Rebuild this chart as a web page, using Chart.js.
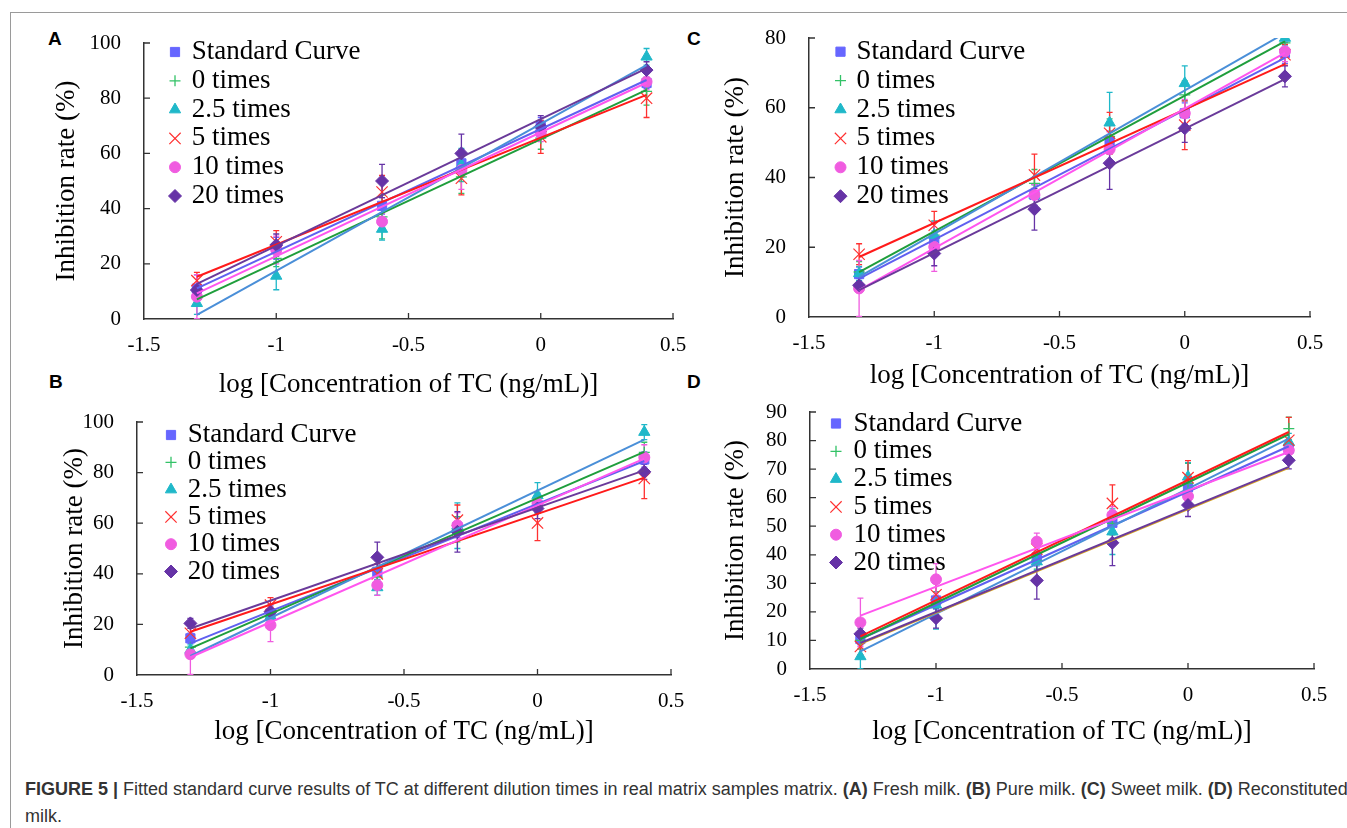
<!DOCTYPE html>
<html>
<head>
<meta charset="utf-8">
<title>Figure 5 - fitted standard curves of TC</title>
<script src="https://cdn.jsdelivr.net/npm/chart.js@4.4.1/dist/chart.umd.min.js"></script>
<style>
  html, body { margin: 0; padding: 0; background: #fff; }
  body { width: 1347px; height: 828px; overflow: hidden; position: relative; }
  #frame { position: absolute; left: 10px; top: 12px; width: 1400px; height: 900px; border: 1.5px solid #9a9a9a; }
  canvas { position: absolute; }
  .letter { position: absolute; font: bold 19px "Liberation Sans", Arial, sans-serif; color: #000; }
  #caption { position: absolute; left: 25px; top: 776px; font: 18px "Liberation Sans", Arial, sans-serif;
             line-height: 27px; color: #333; white-space: nowrap; }
</style>
</head>
<body>
<div id="frame"></div>
<div class="letter" style="left:48px;top:28px">A</div>
<div class="letter" style="left:49px;top:371px">B</div>
<div class="letter" style="left:687px;top:28px">C</div>
<div class="letter" style="left:687px;top:371px">D</div>
<div id="caption"><b>FIGURE 5 |</b> Fitted standard curve results of TC at different dilution times in real matrix samples matrix. <b>(A)</b> Fresh milk. <b>(B)</b> Pure milk. <b>(C)</b> Sweet milk. <b>(D)</b> Reconstituted<br>milk.</div>

<script>
// x positions (log concentration) and series names
const concLog = [-1.3, -1, -0.6, -0.3, 0, 0.4];
const fitEnds = [-1.3, 0.4];
const seriesNames = ['Standard Curve', '0 times', '2.5 times', '5 times', '10 times', '20 times'];

const xTicks = [-1.5, -1, -0.5, 0, 0.5];
const xTickLabels = ['-1.5', '-1', '-0.5', '0', '0.5'];
const yTicks100 = [0, 20, 40, 60, 80, 100];
const yTicks80 = [0, 20, 40, 60, 80];
const yTicks90 = [0, 10, 20, 30, 40, 50, 60, 70, 80, 90];

// (A) Fresh milk — mean inhibition rate, error, fitted line at -1.3 / 0.4
const freshMean = [
  [11, 25.6, 41, 56.4, 70, 85.5],
  [8, 22, 37, 51.5, 65.5, 82.5],
  [5.7, 15.6, 32.6, 55.8, 69, 95],
  [13.9, 28, 46, 51, 66, 80],
  [8.1, 25, 35.3, 54, 67.3, 86],
  [10.5, 26.8, 50, 60, 69.7, 90.2]
];
const freshErr = [
  [5, 4, 3, 5, 3, 2],
  [3, 3, 8, 6, 4, 5],
  [4, 5, 4, 6, 3, 3],
  [3, 4, 6, 6, 6, 7],
  [8, 5, 3, 7, 3, 3],
  [2, 4, 6, 7, 4, 3]
];
const freshFit = [[11.1, 86.6], [7.1, 83], [1.5, 92], [15.3, 81.2], [9.3, 85.6], [12.7, 90.8]];

// (B) Pure milk
const pureMean = [
  [14.5, 24.3, 40.8, 58.5, 67.1, 85.2],
  [11, 22.3, 38.7, 57.6, 68, 88],
  [9.9, 23, 34.6, 59, 71, 96],
  [16.5, 27.6, 40, 61.2, 60.1, 77.7],
  [8.2, 19.7, 35.5, 59.2, 67.8, 86],
  [20.4, 25, 46.5, 56.6, 65.8, 80.3]
];
const pureErr = [
  [2, 3, 3, 4, 3, 3],
  [3, 3, 3, 5, 4, 4],
  [2, 3, 3, 9, 5, 3],
  [3, 3, 4, 6, 7, 8],
  [8, 6.5, 4, 5, 3, 5],
  [2, 3, 6, 8, 4, 3]
];
const pureFit = [[12.5, 84.6], [10.5, 88.2], [7.5, 93], [17.1, 78], [7, 85.5], [18.4, 80.9]];

// (C) Sweet milk
const sweetMean = [
  [12.3, 21.6, 35, 50.3, 58.4, 75.7],
  [12.9, 23.5, 38.3, 51.8, 63.7, 78.6],
  [12.5, 23.5, 35, 55.7, 67, 80],
  [18, 26.3, 40.7, 52.7, 55, 75.2],
  [8.2, 20.1, 35, 48.1, 58.4, 76.2],
  [9.1, 18.2, 30.9, 44.1, 54.1, 69]
];
const sweetErr = [
  [2, 3, 3, 3, 3, 3],
  [3, 4, 4, 5, 4, 3],
  [2, 4, 3, 8.7, 5, 2],
  [3, 4, 6, 6, 7, 3],
  [8, 7, 3, 5, 4, 3],
  [2, 3.5, 6, 7.5, 4, 3]
];
const sweetFit = [[11, 74.3], [12.9, 79], [11.5, 81.4], [17.2, 72.5], [7.7, 75.7], [7.7, 68.2]];

// (D) Reconstituted milk
const reconMean = [
  [10.5, 24, 39.1, 51.2, 63.6, 77.2],
  [10, 23, 38, 51, 65, 84.2],
  [4.4, 22.5, 37.6, 48.1, 67.3, 79.5],
  [7.9, 26, 42, 58, 67, 80.1],
  [16.3, 31.4, 44.6, 53.9, 60.5, 76.6],
  [12.3, 17.8, 31, 44.2, 57.4, 73.1]
];
const reconErr = [
  [2, 3, 3, 3, 3, 3],
  [3, 4, 3, 4, 7, 4],
  [4.4, 8.5, 3, 8, 5, 3],
  [3, 4, 4, 6.5, 6, 8],
  [8.5, 5.5, 3, 3, 3, 3],
  [2, 3.5, 6.5, 8, 4, 3]
];
const reconFit = [[10.5, 78], [10.5, 82.2], [6.2, 80.7], [11.4, 83], [18.7, 76], [9.1, 70.8]];
const reconExtraFit = [8.7, 70.4];

// styles
const markers = [
  { pointStyle: 'rect', radius: 6.5, fill: '#6666ff', stroke: '#6666ff', width: 1 },
  { pointStyle: 'cross', radius: 5.5, fill: '#33c267', stroke: '#33c267', width: 1.3 },
  { pointStyle: 'triangle', radius: 6.5, fill: '#1fb8c9', stroke: '#1fb8c9', width: 1 },
  { pointStyle: 'crossRot', radius: 8, fill: '#ff3030', stroke: '#ff3030', width: 1.2 },
  { pointStyle: 'circle', radius: 5.5, fill: '#f05ce0', stroke: '#f05ce0', width: 1 },
  { pointStyle: 'rectRot', radius: 6.5, fill: '#6633a6', stroke: '#6633a6', width: 1 }
];
const lineColors = ['#6060f0', '#1f9e3c', '#4a8fd8', '#ff1a1a', '#ff55ee', '#6a3a9a'];
const serif = 'Liberation Serif';

Chart.defaults.font.family = serif;
Chart.defaults.font.size = 21;
Chart.defaults.color = '#000';

// error bars under the markers
const errorBars = {
  id: 'errorBars',
  beforeDatasetsDraw(chart) {
    const { ctx, chartArea, scales: { x, y } } = chart;
    ctx.save();
    ctx.beginPath();
    ctx.rect(chartArea.left, chartArea.top, chartArea.width, chartArea.height);
    ctx.clip();
    chart.data.datasets.forEach(ds => {
      if (!ds.errors) return;
      ctx.strokeStyle = ds.borderColor;
      ctx.lineWidth = 1.3;
      ds.data.forEach((p, j) => {
        const e = ds.errors[j];
        const px = x.getPixelForValue(p.x);
        const top = y.getPixelForValue(p.y + e);
        const bot = y.getPixelForValue(p.y - e);
        ctx.beginPath();
        ctx.moveTo(px, top); ctx.lineTo(px, bot);
        ctx.moveTo(px - 3, top); ctx.lineTo(px + 3, top);
        ctx.moveTo(px - 3, bot); ctx.lineTo(px + 3, bot);
        ctx.stroke();
      });
    });
    ctx.restore();
  }
};

// tick marks pointing into the plot
const innerTicks = {
  id: 'innerTicks',
  afterDraw(chart) {
    const { ctx, chartArea, scales: { x, y } } = chart;
    ctx.save();
    ctx.strokeStyle = '#333';
    ctx.lineWidth = 1.3;
    ctx.beginPath();
    x.ticks.forEach(t => {
      if (t.value === x.min) return;
      const px = x.getPixelForValue(t.value);
      ctx.moveTo(px, chartArea.bottom); ctx.lineTo(px, chartArea.bottom - 6);
    });
    y.ticks.forEach(t => {
      if (t.value === y.min) return;
      const py = y.getPixelForValue(t.value);
      ctx.moveTo(chartArea.left, py); ctx.lineTo(chartArea.left + 6, py);
    });
    ctx.stroke();
    ctx.restore();
  }
};

// legend drawn inside the plot area, top left
const insideLegend = {
  id: 'insideLegend',
  afterDraw(chart, args, opts) {
    const { ctx, chartArea } = chart;
    ctx.save();
    ctx.font = '27px "' + serif + '"';
    ctx.textBaseline = 'middle';
    let row = 0;
    chart.data.datasets.forEach(ds => {
      if (!ds.inLegend) return;
      const cx = chartArea.left + opts.dx;
      const cy = chartArea.top + opts.dy + row * opts.row;
      ctx.fillStyle = ds.backgroundColor;
      ctx.strokeStyle = ds.borderColor;
      ctx.lineWidth = ds.borderWidth;
      Chart.helpers.drawPoint(ctx, { pointStyle: ds.pointStyle, radius: ds.pointRadius, rotation: 0, borderWidth: ds.borderWidth }, cx, cy);
      ctx.fillStyle = '#000';
      ctx.fillText(ds.label, cx + opts.gap, cy);
      row++;
    });
    ctx.restore();
  }
};

// canvas boxes: plot area = box minus 100px (y axis) on the left, 36px on top,
// 30px on the right and xH px (x axis) at the bottom
const panels = [
  { mean: freshMean, err: freshErr, fit: freshFit, yTicks: yTicks100,
    box: { left: 44, top: 7, width: 659, height: 394 }, xH: 82, yTitlePad: 7,
    legend: { dx: 31, dy: 9, row: 28.8, gap: 16.7 } },
  { mean: pureMean, err: pureErr, fit: pureFit, yTicks: yTicks100,
    box: { left: 37, top: 386, width: 664, height: 362 }, xH: 73, yTitlePad: 22,
    legend: { dx: 34, dy: 13, row: 27.3, gap: 16.8 } },
  { mean: sweetMean, err: sweetErr, fit: sweetFit, yTicks: yTicks80,
    box: { left: 709, top: 2, width: 631, height: 390 }, xH: 75, yTitlePad: 11,
    legend: { dx: 31.5, dy: 13.7, row: 28.9, gap: 16 } },
  { mean: reconMean, err: reconErr, fit: reconFit, yTicks: yTicks90, extraFit: reconExtraFit,
    box: { left: 710, top: 376, width: 634, height: 372 }, xH: 79, yTitlePad: 10,
    legend: { dx: 26, dy: 11.5, row: 27.8, gap: 17.5 } }
];

function buildChart(panel) {
  const canvas = document.createElement('canvas');
  canvas.width = panel.box.width;
  canvas.height = panel.box.height;
  canvas.style.left = panel.box.left + 'px';
  canvas.style.top = panel.box.top + 'px';
  document.body.appendChild(canvas);

  const datasets = [];
  seriesNames.forEach((name, i) => {
    // fitted trend line
    datasets.push({
      label: name + ' (linear)',
      data: fitEnds.map((x, k) => ({ x, y: panel.fit[i][k] })),
      showLine: true,
      borderColor: lineColors[i],
      borderWidth: 2,
      pointRadius: 0,
      fill: false,
      order: 6 - i
    });
    // measured points
    const m = markers[i];
    datasets.push({
      label: name,
      inLegend: true,
      data: concLog.map((x, j) => ({ x, y: panel.mean[i][j] })),
      errors: panel.err[i],
      pointStyle: m.pointStyle,
      pointRadius: m.radius,
      pointHoverRadius: m.radius,
      backgroundColor: m.fill,
      borderColor: m.stroke,
      borderWidth: m.width,
      order: 20 - i
    });
  });
  if (panel.extraFit) {
    datasets.push({
      label: 'Linear (20 times)',
      data: fitEnds.map((x, k) => ({ x, y: panel.extraFit[k] })),
      showLine: true,
      borderColor: '#d8a520',
      borderWidth: 1.5,
      pointRadius: 0,
      fill: false,
      order: 1.5
    });
  }

  const yMax = panel.yTicks[panel.yTicks.length - 1];
  const tickFont = { family: serif, size: 21 };
  return new Chart(canvas, {
    type: 'scatter',
    data: { datasets },
    plugins: [errorBars, innerTicks, insideLegend],
    options: {
      responsive: false,
      animation: false,
      events: [],
      layout: { padding: { top: 36, right: 30, left: 0, bottom: 0 } },
      plugins: {
        legend: { display: false },
        tooltip: { enabled: false },
        insideLegend: panel.legend
      },
      scales: {
        x: {
          type: 'linear', min: -1.5, max: 0.5,
          afterBuildTicks: s => { s.ticks = xTicks.map(v => ({ value: v })); },
          afterFit: s => { s.height = panel.xH; },
          ticks: {
            autoSkip: false, maxRotation: 0, padding: 14, color: '#000', font: tickFont,
            callback: v => xTickLabels[xTicks.indexOf(v)]
          },
          grid: { display: false, drawTicks: false, tickLength: 0 },
          border: { display: true, color: '#333', width: 1.5 },
          title: { display: true, text: 'log [Concentration of TC (ng/mL)]', color: '#000',
                   font: { family: serif, size: 27 }, padding: { top: 0, bottom: 0 } }
        },
        y: {
          type: 'linear', min: 0, max: yMax,
          afterBuildTicks: s => { s.ticks = panel.yTicks.map(v => ({ value: v })); },
          afterFit: s => { s.width = 100; },
          ticks: { autoSkip: false, padding: 23, color: '#000', font: tickFont },
          grid: { display: false, drawTicks: false, tickLength: 0 },
          border: { display: true, color: '#333', width: 1.5 },
          title: { display: true, text: 'Inhibition rate (%)', color: '#000',
                   font: { family: serif, size: 27 }, padding: { top: panel.yTitlePad, bottom: 0 } }
        }
      }
    }
  });
}

panels.forEach(buildChart);
</script>
</body>
</html>
